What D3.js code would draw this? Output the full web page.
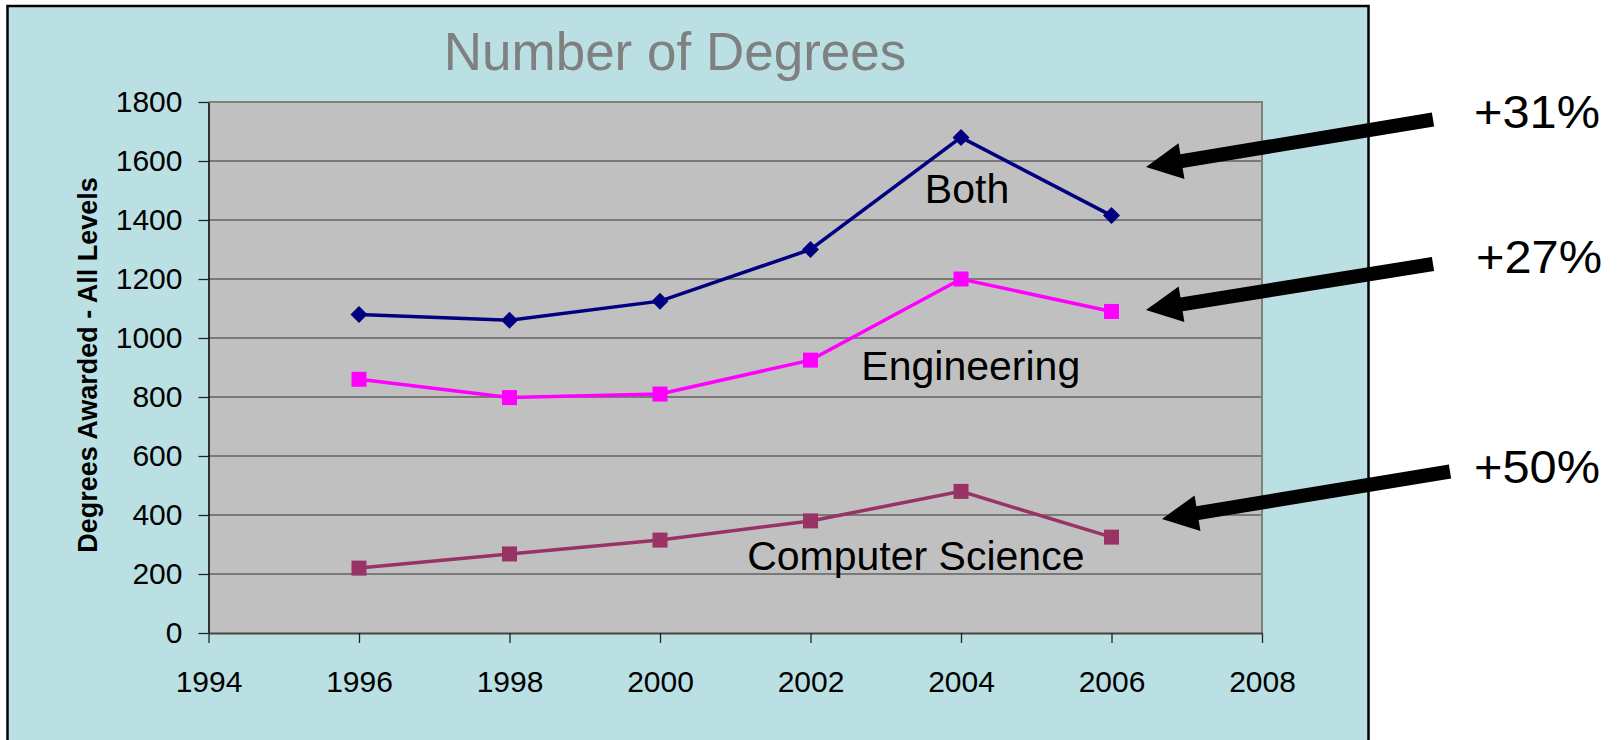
<!DOCTYPE html>
<html>
<head>
<meta charset="utf-8">
<script src="https://cdn.jsdelivr.net/npm/d3@7"></script>
<style>
  body { margin: 0; background: #fff; }
  svg { display: block; }
  text { font-family: "Liberation Sans", Arial, sans-serif; }
</style>
</head>
<body>
<div id="chart"></div>
<script>
// data
var years = [1996, 1998, 2000, 2002, 2004, 2006];
var both = [1080, 1060, 1125, 1300, 1680, 1415];
var engineering = [860, 798, 810, 925, 1200, 1090];
var compSci = [220, 268, 315, 380, 480, 325];
var xTicks = [1994, 1996, 1998, 2000, 2002, 2004, 2006, 2008];
var yTicks = [0, 200, 400, 600, 800, 1000, 1200, 1400, 1600, 1800];
var growth = ["+31%", "+27%", "+50%"];

var width = 1618, height = 740;

var svg = d3.select("#chart").append("svg")
    .attr("width", width)
    .attr("height", height);

// light blue chart area, runs off the bottom
svg.append("rect")
    .attr("x", 7.5).attr("y", 6)
    .attr("width", 1361).attr("height", 800)
    .attr("fill", "#bae0e3")
    .attr("stroke", "#000")
    .attr("stroke-width", 2.5);

var x = d3.scaleLinear().domain([1994, 2008]).range([208.5, 1262]);
var y = d3.scaleLinear().domain([0, 1800]).range([633, 102]);

// plot area
svg.append("rect")
    .attr("x", x(1994)).attr("y", y(1800))
    .attr("width", x(2008) - x(1994)).attr("height", y(0) - y(1800))
    .attr("fill", "#c0c0c0");

svg.append("g").selectAll("line")
    .data(yTicks.filter(function (d) { return d > 0 && d < 1800; }))
    .enter().append("line")
    .attr("x1", x(1994)).attr("x2", x(2008))
    .attr("y1", function (d) { return y(d); })
    .attr("y2", function (d) { return y(d); })
    .attr("stroke", "#333")
    .attr("stroke-width", 1.2);

// top + right border of plot
svg.append("path")
    .attr("d", "M" + x(1994) + "," + y(1800) + "H" + x(2008) + "V" + y(0))
    .attr("fill", "none")
    .attr("stroke", "#808080")
    .attr("stroke-width", 2);

var yAxis = svg.append("g")
    .attr("transform", "translate(" + x(1994) + ",0)")
    .call(d3.axisLeft(y).tickValues(yTicks).tickFormat(d3.format("d"))
        .tickSize(10).tickSizeOuter(0).tickPadding(16));

var xAxis = svg.append("g")
    .attr("transform", "translate(0," + y(0) + ")")
    .call(d3.axisBottom(x).tickValues(xTicks).tickFormat(d3.format("d"))
        .tickSize(10).tickSizeOuter(0).tickPadding(28));

[yAxis, xAxis].forEach(function (a) {
    a.selectAll("text").attr("font-size", 30).attr("fill", "#000")
        .attr("font-family", "Liberation Sans, Arial, sans-serif");
    a.selectAll("line").attr("stroke", "#222").attr("stroke-width", 1.3);
});
yAxis.select(".domain").attr("stroke", "#000").attr("stroke-width", 1.5);
xAxis.select(".domain").attr("stroke", "#444").attr("stroke-width", 2);

// series
var series = [
    { name: "Both", values: both, color: "#000080", marker: "diamond" },
    { name: "Engineering", values: engineering, color: "#ff00ff", marker: "square" },
    { name: "Computer Science", values: compSci, color: "#993366", marker: "square" }
];

var line = d3.line()
    .x(function (d) { return x(d[0]); })
    .y(function (d) { return y(d[1]); });

series.forEach(function (s) {
    var pts = years.map(function (yr, i) { return [yr, s.values[i]]; });
    svg.append("path")
        .datum(pts)
        .attr("d", line)
        .attr("fill", "none")
        .attr("stroke", s.color)
        .attr("stroke-width", 3.5);

    var g = svg.append("g");
    if (s.marker === "diamond") {
        g.selectAll("path").data(pts).enter().append("path")
            .attr("d", function (d) {
                var cx = x(d[0]), cy = y(d[1]), r = 8.5;
                return "M" + cx + "," + (cy - r) + "L" + (cx + r) + "," + cy +
                    "L" + cx + "," + (cy + r) + "L" + (cx - r) + "," + cy + "Z";
            })
            .attr("fill", s.color);
    } else {
        g.selectAll("rect").data(pts).enter().append("rect")
            .attr("x", function (d) { return x(d[0]) - 7.5; })
            .attr("y", function (d) { return y(d[1]) - 7.5; })
            .attr("width", 15).attr("height", 15)
            .attr("fill", s.color);
    }
});

// in-plot series labels
var seriesLabels = [
    { text: "Both", yr: 2004.08, v: 1458 },
    { text: "Engineering", yr: 2004.13, v: 858 },
    { text: "Computer Science", yr: 2003.4, v: 214 }
];
svg.append("g").selectAll("text")
    .data(seriesLabels)
    .enter().append("text")
    .attr("x", function (d) { return x(d.yr); })
    .attr("y", function (d) { return y(d.v); })
    .attr("text-anchor", "middle")
    .attr("font-size", 41)
    .attr("fill", "#000")
    .text(function (d) { return d.text; });

// title
svg.append("text")
    .attr("x", 675).attr("y", 70)
    .attr("text-anchor", "middle")
    .attr("font-size", 53)
    .attr("fill", "#808080")
    .text("Number of Degrees");

// y axis title
svg.append("text")
    .attr("transform", "translate(97,365) rotate(-90)")
    .attr("text-anchor", "middle")
    .attr("font-size", 27)
    .attr("font-weight", "bold")
    .attr("fill", "#000")
    .text("Degrees Awarded - All Levels");

// arrows + growth labels (annotation layout, px)
var arrows = [
    { tail: [1433, 119.5], tip: [1146, 167], tx: 1474, ty: 128 },
    { tail: [1433, 264], tip: [1146, 310], tx: 1476, ty: 273 },
    { tail: [1450, 471.5], tip: [1162, 519], tx: 1474, ty: 483 }
];

function arrowPath(a) {
    var dx = a.tip[0] - a.tail[0], dy = a.tip[1] - a.tail[1];
    var len = Math.sqrt(dx * dx + dy * dy);
    var ux = dx / len, uy = dy / len, px = -uy, py = ux;
    var headLen = 36, headW = 18, shaftW = 7;
    var bx = a.tip[0] - ux * headLen, by = a.tip[1] - uy * headLen;
    var pts = [
        [a.tail[0] + px * shaftW, a.tail[1] + py * shaftW],
        [bx + px * shaftW, by + py * shaftW],
        [bx + px * headW, by + py * headW],
        a.tip,
        [bx - px * headW, by - py * headW],
        [bx - px * shaftW, by - py * shaftW],
        [a.tail[0] - px * shaftW, a.tail[1] - py * shaftW]
    ];
    return "M" + pts.map(function (p) { return p.join(","); }).join("L") + "Z";
}

svg.append("g").selectAll("path")
    .data(arrows)
    .enter().append("path")
    .attr("d", arrowPath)
    .attr("fill", "#000");

svg.append("g").selectAll("text")
    .data(arrows)
    .enter().append("text")
    .attr("x", function (d) { return d.tx; })
    .attr("y", function (d) { return d.ty; })
    .attr("font-size", 47)
    .attr("textLength", 126)
    .attr("lengthAdjust", "spacingAndGlyphs")
    .attr("fill", "#000")
    .text(function (d, i) { return growth[i]; });
</script>
</body>
</html>
